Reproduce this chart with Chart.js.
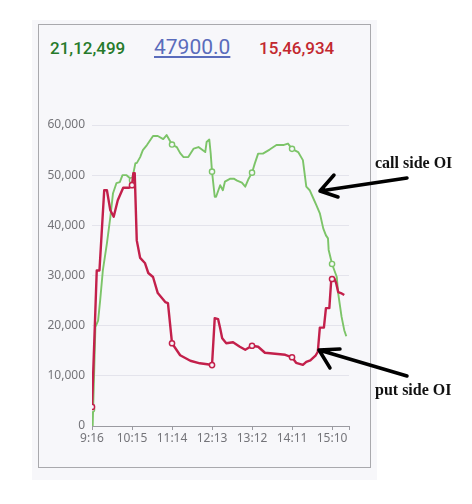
<!DOCTYPE html>
<html>
<head>
<meta charset="utf-8">
<script src="https://cdn.jsdelivr.net/npm/chart.js@4"></script>
<style>
    html, body { margin: 0; padding: 0; background: #ffffff; }
    body { width: 472px; height: 504px; position: relative; overflow: hidden; font-family: Roboto, "Noto Sans", sans-serif; }
    .outer { position: absolute; left: 32px; top: 20px; width: 345px; height: 460px; background: #f7f7fa; }
    .card { position: absolute; left: 38px; top: 24px; width: 331px; height: 442px; border: 1px solid #a9a9ad; background: #f7f7fa; }
    .hdr { position: absolute; white-space: nowrap; line-height: 1; font-weight: 500; }
    #callTotal { left: 50px; top: 40px; font-size: 17px; color: #267a2a; }
    #strike { left: 154px; top: 37px; font-size: 21px; color: #5a6cbc; font-weight: 400; text-decoration: underline; text-underline-offset: 2px; }
    #putTotal { left: 259px; top: 40px; font-size: 17px; color: #c3282f; }
    #wrap { position: absolute; left: 0; top: 0; width: 472px; height: 504px; }
</style>
</head>
<body>
<div class="outer"></div>
<div class="card"></div>
<div class="hdr" id="callTotal">21,12,499</div>
<div class="hdr" id="strike">47900.0</div>
<div class="hdr" id="putTotal">15,46,934</div>
<div id="wrap"><canvas id="oiChart"></canvas></div>

<script>
// 時間軸：以 9:16 起算的分鐘數
const tickLabels = ['9:16', '10:15', '11:14', '12:13', '13:12', '14:11', '15:10'];
const xMax = 379;

// call side OI (綠)
const callMinutes = [0, 1, 5, 9, 12, 16, 22, 27, 31, 36, 41, 45, 51, 56, 59, 64, 66, 71, 75, 81, 86, 90, 97,
    105, 110, 118, 125, 130, 135, 142, 150, 157, 167, 169, 173, 175, 177, 181, 183, 189, 193, 196, 204, 209,
    214, 221, 226, 231, 236, 240, 245, 252, 262, 272, 282, 289, 295, 304, 311, 316, 321, 326, 331, 336, 341,
    345, 348, 349, 354, 361, 363, 368, 372, 375];
const callOI = [3300, 0, 19700, 21000, 25000, 31000, 36400, 41600, 46400, 48400, 48600, 50000, 50000, 49400, 49000,
    52400, 52400, 53600, 55000, 56000, 57000, 57800, 57800, 57200, 58000, 56100, 55600, 54400, 53600, 53600,
    55300, 55600, 54600, 56600, 57100, 54400, 50700, 45700, 45700, 48000, 47000, 48700, 49300, 49300, 48900,
    48500, 47700, 49300, 50500, 52300, 54300, 54300, 55100, 56000, 56000, 56300, 55250, 54600, 53000, 47700,
    47000, 45500, 44000, 42400, 39400, 38000, 37400, 35100, 32300, 29700, 26500, 21800, 19100, 17900];

// put side OI (紅)
const putMinutes = [0, 7, 11, 18, 22, 27, 32, 38, 46, 55, 59, 61, 63, 66, 71, 78, 83, 90, 97, 108, 112, 118,
    130, 145, 159, 170, 177, 181, 186, 189, 192, 198, 208, 218, 226, 236, 245, 255, 270, 285, 295, 301, 311,
    316, 322, 330, 333, 336, 342, 345, 350, 353, 354, 357, 360, 363, 367, 372];
const putOI = [3800, 31000, 31000, 47000, 47000, 43000, 41700, 45000, 47500, 47500, 48000, 50400, 50400, 37000,
    33500, 32500, 30500, 29700, 26500, 24700, 24500, 16500, 14100, 13000, 12500, 12300, 12150, 21500, 21300,
    19500, 17500, 16500, 16700, 15800, 15200, 16000, 15800, 14600, 14400, 14200, 13700, 12600, 12200, 12800,
    13100, 14100, 14800, 19600, 19600, 23500, 23500, 29500, 29300, 29500, 28500, 26700, 26500, 26100];

const yMax = 60000;
const yStep = 10000;

function labelToMinutes(label) {
    const parts = label.split(':');
    return parseInt(parts[0], 10) * 60 + parseInt(parts[1], 10) - (9 * 60 + 16);
}

const tickMinutes = tickLabels.map(labelToMinutes);

function toPoints(xs, ys) {
    return xs.map((x, i) => ({ x: x, y: ys[i] }));
}

// 只在刻度時間上畫空心圓點
function markerRadius(ctx) {
    return ctx.raw && tickMinutes.indexOf(ctx.raw.x) !== -1 ? 2.6 : 0;
}

// 手繪的箭頭與說明文字
const notePlugin = {
    id: 'notes',
    afterDraw: function(chart) {
        const c = chart.ctx;
        c.save();
        c.strokeStyle = '#000';
        c.lineWidth = 3.5;
        c.lineCap = 'round';
        c.lineJoin = 'round';
        const arrows = [
            { tail: [407, 178], tip: [320, 191], a: [334, 175], b: [338, 197] },
            { tail: [407, 376], tip: [319, 350], a: [340, 349], b: [330, 368] }
        ];
        arrows.forEach(ar => {
            c.beginPath();
            c.moveTo(ar.tail[0], ar.tail[1]);
            c.lineTo(ar.tip[0], ar.tip[1]);
            c.moveTo(ar.a[0], ar.a[1]);
            c.lineTo(ar.tip[0], ar.tip[1]);
            c.lineTo(ar.b[0], ar.b[1]);
            c.stroke();
        });
        c.fillStyle = '#111';
        c.font = 'bold 16px "Liberation Serif", "DejaVu Serif", serif';
        c.textBaseline = 'middle';
        c.fillText('call side OI', 375, 164);
        c.fillText('put side OI', 375, 391);
        c.restore();
    }
};

const canvas = document.getElementById('oiChart');
const oiChart = new Chart(canvas, {
    type: 'line',
    data: {
        datasets: [{
            label: 'put side OI',
            data: toPoints(putMinutes, putOI),
            borderColor: '#c3204b',
            borderWidth: 2.4,
            borderJoinStyle: 'round',
            tension: 0,
            pointRadius: markerRadius,
            pointBackgroundColor: '#f7f7fa',
            pointBorderColor: '#c3204b',
            pointBorderWidth: 1.5
        }, {
            label: 'call side OI',
            data: toPoints(callMinutes, callOI),
            borderColor: '#7cc468',
            borderWidth: 1.9,
            borderJoinStyle: 'round',
            tension: 0,
            pointRadius: markerRadius,
            pointBackgroundColor: '#f7f7fa',
            pointBorderColor: '#7cc468',
            pointBorderWidth: 1.4
        }]
    },
    options: {
        responsive: true,
        maintainAspectRatio: false,
        animation: false,
        layout: { padding: { left: 42, right: 123, top: 125, bottom: 48 } },
        plugins: {
            legend: { display: false },
            tooltip: { enabled: false }
        },
        scales: {
            x: {
                type: 'linear',
                min: 0,
                max: xMax,
                afterFit: function(scale) { scale.height = 30; },
                afterBuildTicks: function(scale) {
                    scale.ticks = tickMinutes.map(v => ({ value: v })).concat([{ value: xMax }]);
                },
                border: { display: true, color: '#9a9aa0', width: 1 },
                grid: { display: true, drawOnChartArea: false, drawTicks: true, tickLength: 4, color: '#9a9aa0' },
                ticks: {
                    autoSkip: false,
                    maxRotation: 0,
                    padding: 1,
                    color: '#747479',
                    font: { family: '"Noto Sans", sans-serif', size: 12 },
                    callback: function(value) {
                        const i = tickMinutes.indexOf(value);
                        return i === -1 ? '' : tickLabels[i];
                    }
                }
            },
            y: {
                min: 0,
                max: yMax,
                afterFit: function(scale) { scale.width = 50; },
                border: { display: false },
                grid: { color: '#e4e4ec', drawTicks: false },
                ticks: {
                    stepSize: yStep,
                    padding: 7,
                    color: '#747479',
                    font: { family: '"Noto Sans", sans-serif', size: 12 },
                    callback: function(value) { return value.toLocaleString('en-US'); }
                }
            }
        }
    },
    plugins: [notePlugin]
});
</script>
</body>
</html>
